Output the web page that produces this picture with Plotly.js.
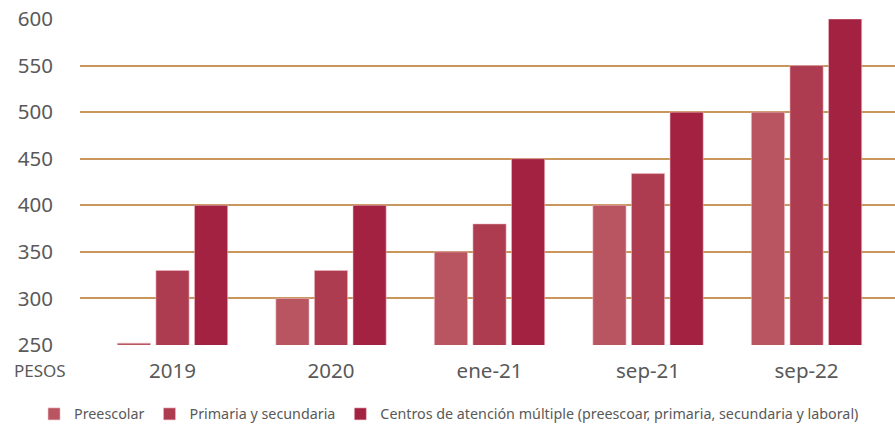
<!DOCTYPE html>
<html><head><meta charset="utf-8">
<script src="https://cdn.plot.ly/plotly-3.0.1.min.js"></script>
<style>html,body{margin:0;padding:0;background:#fff}#chart{width:895px;height:428px}</style>
</head><body><div id="chart"></div>
<script>
const categories = ['2019', '2020', 'ene-21', 'sep-21', 'sep-22'];
const seriesNames = ['Preescolar', 'Primaria y secundaria', 'Centros de atención múltiple (preescoar, primaria, secundaria y laboral)'];
const preescolar = [252, 300, 350, 400, 500];
const primaria = [330, 330, 380, 434, 550];
const centros = [400, 400, 450, 500, 600];
const yTicks = [250, 300, 350, 400, 450, 500, 550, 600];

const colors = ['#B95561', '#AE3C51', '#A32141'];
const values = [preescolar, primaria, centros];
const font = "'Source Sans Pro', 'Noto Sans', 'Open Sans', sans-serif";

const data = values.map((v, i) => ({
  type: 'bar', x: categories, y: v, name: seriesNames[i],
  marker: {color: colors[i], line: {color: 'rgba(240,190,200,0.7)', width: 0.8}},
  hoverinfo: 'skip'
}));

const layout = {
  width: 895, height: 428,
  margin: {l: 80, r: 0, t: 19, b: 83, autoexpand: false},
  paper_bgcolor: '#fff', plot_bgcolor: '#fff',
  font: {family: font, color: '#595959'},
  barmode: 'group', bargap: 0.27, bargroupgap: 0.14,
  showlegend: true,
  legend: {orientation: 'h', x: -0.0564, xanchor: 'left',
    y: -0.212, yanchor: 'middle',
    font: {size: 14.3, color: '#595959', family: font}, traceorder: 'normal', itemwidth: 30},
  xaxis: {type: 'category', range: [-0.5836, 4.558], showgrid: false, zeroline: false,
    showline: false, ticks: '', tickfont: {size: 20.5, color: '#595959'}, ticklabelstandoff: 11},
  yaxis: {range: [250, 600], tickvals: yTicks, ticktext: yTicks.map(String),
    showgrid: true, gridcolor: '#C9965E', gridwidth: 2, zeroline: false, showline: false,
    ticks: '', tickfont: {size: 20.5, color: '#595959'}, ticklabelstandoff: 26},
  annotations: [{text: 'PESOS', xref: 'paper', yref: 'paper', x: -0.084, y: -0.078,
    xanchor: 'left', yanchor: 'middle', showarrow: false,
    font: {size: 17, color: '#595959', family: font}}]
};
Plotly.newPlot('chart', data, layout, {displayModeBar: false, staticPlot: true});
</script></body></html>
